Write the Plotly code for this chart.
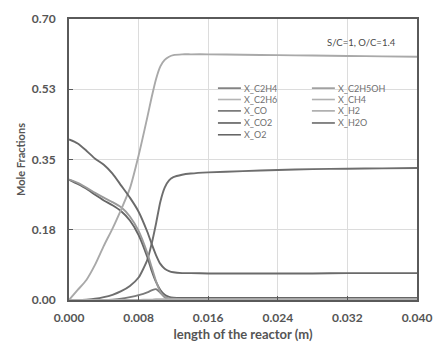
import plotly.graph_objects as go

# ---- data ----
x_len = [0.0, 0.001, 0.002, 0.003, 0.004, 0.005, 0.006, 0.007, 0.008, 0.009,
         0.0095, 0.010, 0.0105, 0.011, 0.0115, 0.012, 0.013, 0.014, 0.016,
         0.020, 0.024, 0.028, 0.032, 0.036, 0.040]

x_h2 = [0.0, 0.025, 0.05, 0.088, 0.135, 0.178, 0.226, 0.278, 0.36, 0.455,
        0.505, 0.55, 0.582, 0.598, 0.606, 0.61, 0.612, 0.612, 0.612,
        0.611, 0.610, 0.609, 0.608, 0.607, 0.606]

x_h2o = [0.40, 0.39, 0.372, 0.352, 0.337, 0.315, 0.285, 0.255, 0.22, 0.17,
         0.14, 0.112, 0.09, 0.078, 0.072, 0.069, 0.067, 0.067, 0.066,
         0.066, 0.066, 0.066, 0.067, 0.067, 0.067]

x_c2h5oh = [0.30, 0.292, 0.28, 0.267, 0.255, 0.244, 0.231, 0.208, 0.172, 0.117,
            0.082, 0.047, 0.02, 0.008, 0.004, 0.003, 0.002, 0.002, 0.002,
            0.002, 0.002, 0.002, 0.002, 0.002, 0.002]

x_o2 = [0.30, 0.289, 0.277, 0.262, 0.248, 0.236, 0.221, 0.198, 0.162, 0.107,
        0.073, 0.045, 0.025, 0.013, 0.008, 0.006, 0.005, 0.005, 0.005,
        0.005, 0.005, 0.005, 0.005, 0.005, 0.005]

x_co = [0.0, 0.0, 0.001, 0.003, 0.007, 0.013, 0.022, 0.035, 0.056, 0.10,
        0.14, 0.19, 0.245, 0.28, 0.298, 0.306, 0.312, 0.315, 0.318,
        0.321, 0.324, 0.326, 0.327, 0.328, 0.329]

x_c2h4 = [0.0, 0.0, 0.0, 0.0, 0.0, 0.001, 0.003, 0.007, 0.012, 0.019,
          0.024, 0.027, 0.018, 0.007, 0.002, 0.001, 0.0, 0.0, 0.0,
          0.0, 0.0, 0.0, 0.0, 0.0, 0.0]

x_c2h6 = [0.0] * 25
x_ch4 = [0.0, 0.0, 0.0, 0.0, 0.0, 0.0, 0.0, 0.0, 0.0, 0.001,
         0.001, 0.002, 0.002, 0.002, 0.002, 0.002, 0.002, 0.002, 0.002,
         0.002, 0.002, 0.002, 0.002, 0.002, 0.002]
x_co2 = [0.0] * 25

x_ticks = [0.000, 0.008, 0.016, 0.024, 0.032, 0.040]
y_ticks = [0.0, 0.175, 0.35, 0.525, 0.70]
y_tick_labels = ["0.00", "0.18", "0.35", "0.53", "0.70"]

legend_col1 = ["X_C2H4", "X_C2H6", "X_CO", "X_CO2", "X_O2"]
legend_col2 = ["X_C2H5OH", "X_CH4", "X_H2", "X_H2O"]

series = {
    "X_C2H4": x_c2h4, "X_C2H6": x_c2h6, "X_CO": x_co, "X_CO2": x_co2,
    "X_O2": x_o2, "X_C2H5OH": x_c2h5oh, "X_CH4": x_ch4, "X_H2": x_h2,
    "X_H2O": x_h2o,
}
colors = {
    "X_C2H4": "#7a7a7a", "X_C2H6": "#b4b4b4", "X_CO": "#6e6e6e",
    "X_CO2": "#5e5e5e", "X_O2": "#666666", "X_C2H5OH": "#9a9a9a",
    "X_CH4": "#b0b0b0", "X_H2": "#a9a9a9", "X_H2O": "#6a6a6a",
}

FONT = "Lato"
GRAY = "#555555"

fig = go.Figure()
for name in legend_col1 + legend_col2:
    fig.add_trace(go.Scatter(
        x=x_len, y=series[name], mode="lines", name=name,
        line=dict(color=colors[name], width=1.9, shape="spline", smoothing=0.6),
        showlegend=False,
    ))

# manual two-column legend (compact, like the reference)
row_y = [0.754, 0.7135, 0.673, 0.630, 0.588]
for col, (names, x0, x1) in enumerate([(legend_col1, 0.428, 0.494),
                                        (legend_col2, 0.698, 0.764)]):
    for i, name in enumerate(names):
        fig.add_shape(type="line", xref="paper", yref="paper",
                      x0=x0, x1=x1, y0=row_y[i], y1=row_y[i],
                      line=dict(color=colors[name], width=1.6))
        fig.add_annotation(text=name, xref="paper", yref="paper",
                           x=x1 + 0.002, y=row_y[i], xanchor="left",
                           yanchor="middle", showarrow=False,
                           font=dict(family=FONT, size=9, color="#707070"))

fig.add_annotation(text="S/C=1, O/C=1.4", xref="paper", yref="paper",
                   x=0.84, y=0.918, xanchor="center", yanchor="middle",
                   showarrow=False,
                   font=dict(family=FONT, size=9.5, color="#4a4a4a"))

fig.update_layout(
    width=435, height=342,
    margin=dict(l=69, r=18, t=19, b=42),
    paper_bgcolor="white", plot_bgcolor="white",
    font=dict(family=FONT, color=GRAY),
)
fig.update_xaxes(
    range=[0, 0.040], tickvals=x_ticks, tickformat=".3f",
    showgrid=True, gridcolor="#dcdcdc", gridwidth=1,
    showline=True, linecolor="#5a5a5a", linewidth=2, mirror=True,
    ticks="inside", ticklen=4, tickcolor="#5a5a5a",
    tickfont=dict(family=FONT, size=12, color=GRAY, weight="bold"),
    ticklabelstandoff=6, zeroline=False, automargin=False,
    title=dict(text="length of the reactor (m)", standoff=7,
               font=dict(family=FONT, size=13, color=GRAY, weight="bold")),
)
fig.update_yaxes(
    range=[0, 0.70], tickvals=y_ticks, ticktext=y_tick_labels,
    showgrid=True, gridcolor="#dcdcdc", gridwidth=1,
    showline=True, linecolor="#5a5a5a", linewidth=2, mirror=True,
    ticks="inside", ticklen=4, tickcolor="#5a5a5a",
    tickfont=dict(family=FONT, size=12, color=GRAY, weight="bold"),
    ticklabelstandoff=9, zeroline=False, automargin=False,
    title=dict(text="Mole Fractions", standoff=4,
               font=dict(family=FONT, size=11, color=GRAY, weight="bold")),
)

# remove the default page margin so the figure sits at the window origin
fig.write_html(
    "out.html",
    config={"displayModeBar": False},
    post_script="document.body.style.margin='0';"
                "document.body.style.overflow='hidden';",
)
